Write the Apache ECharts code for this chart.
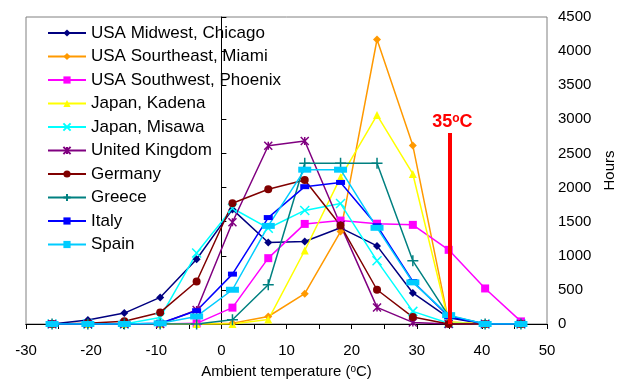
<!DOCTYPE html>
<html>
<head>
<meta charset="utf-8">
<script src="https://cdn.jsdelivr.net/npm/echarts@6/dist/echarts.min.js"></script>
<style>
  html, body { margin: 0; padding: 0; background: #fff; }
  #chart { width: 624px; height: 382px; }
</style>
</head>
<body>
<div id="chart"></div>
<script>
// bin centres (°C) shared by all sites
const temps = [-26, -20.5, -14.9, -9.4, -3.8, 1.7, 7.2, 12.8, 18.3, 23.9, 29.4, 34.9, 40.5, 46]

const chicago = [0, 60, 160, 390, 950, 1680, 1195, 1210, 1410, 1145, 455, 90, 0, 0]
const miami = [0, 0, 0, 0, 0, 10, 110, 445, 1355, 4170, 2615, 30, 0, 0]
const phoenix = [0, 0, 0, 0, 10, 240, 965, 1467, 1516, 1470, 1453, 1087, 521, 38]
const kadena = [0, 0, 0, 0, 0, 0, 65, 1077, 2150, 3062, 2199, 30, 0, 0]
const misawa = [0, 0, 0, 95, 1040, 1697, 1404, 1665, 1765, 926, 185, 10, 0, 0]
const uk = [0, 0, 0, 0, 205, 1492, 2613, 2682, 1450, 243, 23, 0, 0, 0]
const germany = [0, 10, 40, 170, 623, 1770, 1975, 2111, 1445, 502, 102, 0, 0, 0]
const greece = [0, 0, 0, 0, 0, 63, 575, 2355, 2355, 2355, 926, 120, 0, 0]
const italy = [0, 0, 0, 10, 195, 731, 1560, 2013, 2075, 1440, 623, 110, 0, 0]
const spain = [0, 0, 0, 10, 111, 502, 1438, 2262, 2262, 1410, 610, 130, 0, 0]

const limitTemp = 35
const limitHeight = 2800

const FONT = '"Liberation Sans", Arial, sans-serif'

const crossPath = 'path://M0,0L10,10M10,0L0,10'
const plusPath = 'path://M5,0L5,10M0,5L10,5'
const starPath = 'path://M0,0L10,10M10,0L0,10M5,0L5,10'

function pairs(vals) {
  return temps.map((t, i) => [t, vals[i]])
}

function site(name, vals, color, symbol, size, stroked) {
  return {
    name,
    type: 'line',
    data: pairs(vals),
    symbol,
    symbolSize: size,
    lineStyle: { color, width: 1.5 },
    itemStyle: stroked
      ? { color, borderColor: color, borderWidth: 1.5 }
      : { color, borderWidth: 0 },
    emphasis: { disabled: true },
    animation: false,
  }
}

const series = [
  site('USA Midwest, Chicago', chicago, '#000080', 'diamond', 8, false),
  site('USA Sourtheast, Miami', miami, '#FF9900', 'diamond', 8, false),
  site('USA Southwest, Phoenix', phoenix, '#FF00FF', 'rect', 8, false),
  site('Japan, Kadena', kadena, '#FFFF00', 'triangle', 8, false),
  site('Japan, Misawa', misawa, '#00FFFF', crossPath, 9, true),
  site('United Kingdom', uk, '#800080', starPath, 8, true),
  site('Germany', germany, '#800000', 'circle', 8, false),
  site('Greece', greece, '#008080', plusPath, 11, true),
  site('Italy', italy, '#0000FF', 'rect', [9, 5], false),
  site('Spain', spain, '#00CCFF', 'rect', [13, 6], false),
]

// red 35°C marker bar
series.push({
  name: 'limit',
  type: 'line',
  data: [],
  animation: false,
  markLine: {
    silent: true,
    symbol: 'none',
    lineStyle: { color: '#FF0000', width: 4, type: 'solid' },
    label: {
      show: true,
      position: 'end',
      distance: 1,
      offset: [3, 0],
      formatter: '{a|35}{b|o}{a|C}',
      rich: {
        a: { color: '#FF0000', fontSize: 18, fontWeight: 'bold', fontFamily: FONT, lineHeight: 19 },
        b: { color: '#FF0000', fontSize: 12, fontWeight: 'bold', fontFamily: FONT, lineHeight: 19, verticalAlign: 'top' },
      },
    },
    data: [[{ coord: [limitTemp, 0] }, { coord: [limitTemp, limitHeight] }]],
  },
})

const chart = echarts.init(document.getElementById('chart'), null, { renderer: 'canvas' })
chart.setOption({
  backgroundColor: '#fff',
  textStyle: { fontFamily: FONT },
  grid: {
    left: 26, right: 77, top: 17, bottom: 58,
    outerBoundsMode: 'none',
    show: true, borderColor: '#808080', borderWidth: 1,
  },
  legend: {
    data: series.slice(0, 10).map((s) => s.name),
    orient: 'vertical',
    left: 47,
    top: 24.5,
    padding: 0,
    itemWidth: 38,
    itemHeight: 9,
    itemGap: 6.5,
    textStyle: { fontSize: 17, color: '#000', fontFamily: FONT },
    selectedMode: false,
  },
  xAxis: [
    {
      type: 'value',
      min: -30,
      max: 50,
      interval: 10,
      name: '{t|Ambient temperature (}{s|o}{t|C)}',
      nameLocation: 'middle',
      nameGap: 40,
      nameTextStyle: {
        rich: {
          t: { fontSize: 15, color: '#000', fontFamily: FONT, lineHeight: 16 },
          s: { fontSize: 10, color: '#000', fontFamily: FONT, lineHeight: 16, verticalAlign: 'top' },
        },
      },
      axisLine: { onZero: false, lineStyle: { color: '#000', width: 1 } },
      axisTick: { show: true, length: 5, lineStyle: { color: '#000' } },
      minorTick: { show: true, splitNumber: 2, length: 5, lineStyle: { color: '#000' } },
      axisLabel: { fontSize: 15, color: '#000', margin: 19, fontFamily: FONT },
      splitLine: { show: false },
    },
    {
      type: 'value',
      position: 'top',
      min: -30,
      max: 50,
      axisLine: { show: true, lineStyle: { color: '#000', width: 1 } },
      axisTick: { show: false },
      axisLabel: { show: false },
      splitLine: { show: false },
    },
  ],
  yAxis: {
    type: 'value',
    position: 'right',
    min: 0,
    max: 4500,
    interval: 500,
    name: 'Hours',
    nameLocation: 'middle',
    nameRotate: 90,
    nameGap: 53,
    nameTextStyle: { fontSize: 15, color: '#000', fontFamily: FONT },
    axisLine: { show: true, lineStyle: { color: '#000', width: 1 } },
    axisTick: { show: true, length: 5, lineStyle: { color: '#000' } },
    axisLabel: { fontSize: 15, color: '#000', margin: 11, fontFamily: FONT, formatter: (v) => String(v) },
    splitLine: { show: false },
  },
  series,
})
</script>
</body>
</html>
